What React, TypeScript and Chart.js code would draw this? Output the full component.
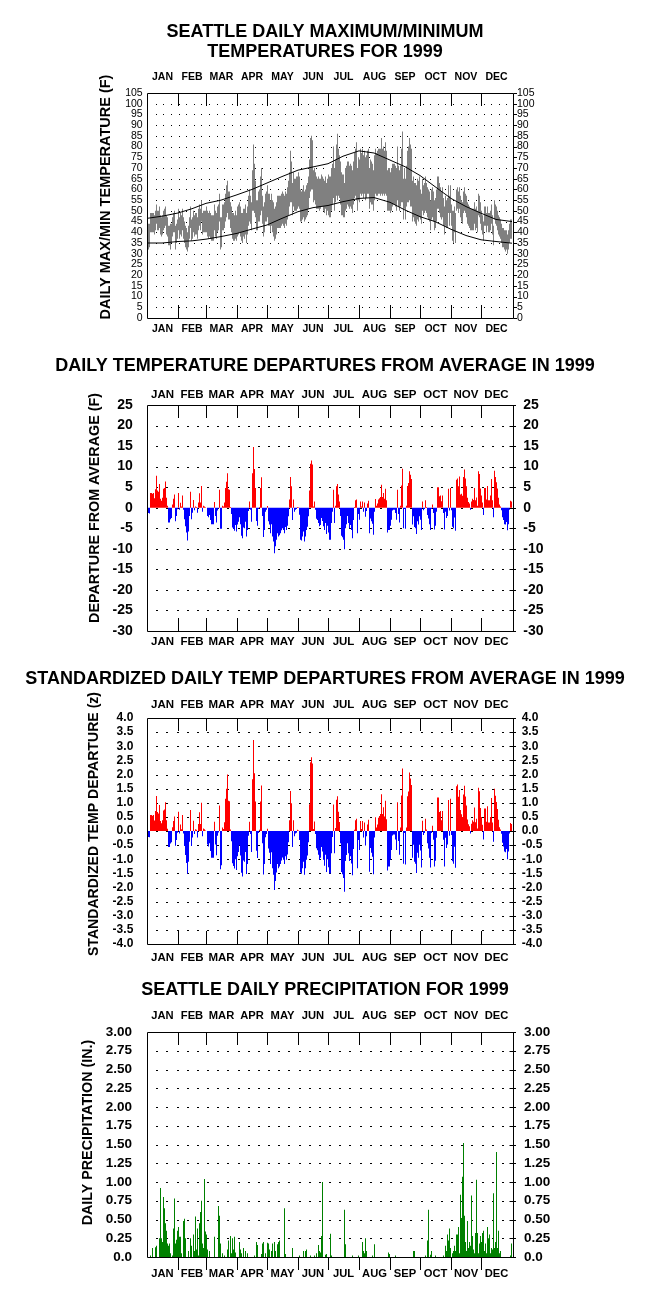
import React, { useEffect, useRef } from "react";
import { Chart, registerables } from "chart.js";

Chart.register(...registerables);

const FONT = "Arial, 'Liberation Sans', Helvetica, sans-serif";

const MONTHS = ["JAN", "FEB", "MAR", "APR", "MAY", "JUN", "JUL", "AUG", "SEP", "OCT", "NOV", "DEC"];
const MONTH_START = [0, 31, 59, 90, 120, 151, 181, 212, 243, 273, 304, 334, 365];
const MONTH_MID = MONTHS.map((_, i) => (MONTH_START[i] + MONTH_START[i + 1]) / 2);

const TITLE_TEMP = ["SEATTLE DAILY MAXIMUM/MINIMUM", "TEMPERATURES FOR 1999"];
const TITLE_DEP = "DAILY TEMPERATURE DEPARTURES FROM AVERAGE IN 1999";
const TITLE_Z = "STANDARDIZED DAILY TEMP DEPARTURES FROM AVERAGE IN 1999";
const TITLE_PRECIP = "SEATTLE DAILY PRECIPITATION FOR 1999";
const YLABEL_TEMP = "DAILY MAX/MIN TEMPERATURE (F)";
const YLABEL_DEP = "DEPARTURE FROM AVERAGE (F)";
const YLABEL_Z = "STANDARDIZED TEMP DEPARTURE (z)";
const YLABEL_PRECIP = "DAILY PRECIPITATION (IN.)";

// normal (average) max / min temperature, read at month starts and mid-months (day of year)
const NORMAL_DAYS = [0, 15, 31, 45, 59, 74, 90, 105, 120, 135, 151, 166, 181, 196, 212, 227, 243, 258, 273, 288, 304, 319, 334, 349, 365];
const NORMAL_HIGH = [46.5, 47.5, 49, 51, 53.5, 55, 57.5, 60, 63, 66, 69, 70.5, 72, 75.5, 78, 77, 73.7, 70.6, 66.5, 61.3, 55.8, 52, 48.9, 46, 45];
const NORMAL_LOW = [35, 35, 35.7, 36, 36.8, 38, 39.5, 41.5, 43.4, 46.5, 49.6, 51.5, 52.5, 54.3, 55.8, 56.2, 54, 50.4, 47.3, 45, 41.4, 38.5, 36.5, 35.7, 34.9];

// daily observed maximum temperature (F), Jan 1 .. Dec 31
const DAILY_MAX = [
  48, 44, 44, 49, 49, 49, 49, 48, 50, 53, 50, 50, 52, 48, 47, 48, 50, 51, 52, 48, 47, 43, 43, 44, 44, 47, 49, 50, 43, 44, 46,
  51, 47, 49, 48, 51, 47, 45, 43, 42, 40, 43, 47, 52, 46, 47, 50, 48, 49, 49, 47, 51, 53, 51, 55, 49, 50, 50, 50,
  52, 50, 49, 50, 49, 48, 48, 48, 53, 50, 49, 52, 53, 58, 47, 47, 53, 53, 54, 58, 62, 64, 59, 59, 54, 52, 49, 49, 48, 50, 48,
  52, 53, 54, 52, 49, 49, 51, 51, 53, 49, 52, 57, 60, 57, 54, 69, 81, 72, 64, 55, 55, 59, 60, 66, 70, 57, 52, 54, 58, 59,
  62, 58, 58, 55, 58, 55, 54, 51, 52, 54, 57, 57, 57, 57, 58, 59, 58, 57, 59, 58, 61, 64, 68, 78, 73, 63, 68, 65, 65, 66, 66,
  68, 66, 60, 59, 60, 62, 59, 60, 62, 63, 66, 74, 84, 85, 83, 69, 70, 68, 66, 65, 66, 65, 65, 67, 66, 65, 64, 66, 63, 65,
  67, 66, 66, 70, 72, 80, 70, 74, 81, 86, 79, 76, 73, 68, 67, 67, 63, 70, 71, 73, 73, 71, 72, 71, 69, 73, 77, 79, 82, 70, 75,
  74, 79, 77, 79, 76, 78, 75, 76, 78, 79, 70, 74, 73, 72, 69, 76, 79, 77, 78, 79, 79, 79, 84, 79, 80, 78, 82, 78, 69, 70, 70,
  68, 70, 72, 72, 72, 71, 70, 80, 71, 69, 71, 79, 87, 65, 70, 65, 71, 78, 80, 84, 81, 79, 64, 66, 63, 63, 62, 65, 64, 66,
  60, 58, 65, 62, 63, 66, 63, 61, 60, 59, 55, 60, 61, 59, 55, 56, 60, 66, 66, 63, 61, 59, 61, 56, 52, 57, 55, 56, 62, 57, 62,
  53, 50, 50, 52, 49, 60, 61, 59, 61, 57, 55, 54, 59, 61, 58, 57, 54, 53, 52, 51, 51, 51, 51, 54, 51, 52, 50, 58, 57, 54,
  50, 48, 45, 52, 52, 49, 52, 49, 49, 50, 53, 48, 43, 55, 53, 52, 50, 48, 47, 46, 44, 42, 42, 41, 41, 41, 39, 41, 44, 46, 46,
];

// daily observed minimum temperature (F)
const DAILY_MIN = [
  39, 32, 33, 40, 40, 40, 40, 39, 41, 44, 41, 41, 42, 39, 38, 39, 41, 42, 43, 39, 38, 34, 34, 32, 35, 38, 40, 40, 32, 35, 37,
  41, 37, 39, 38, 41, 37, 35, 33, 32, 31, 33, 37, 42, 36, 37, 40, 38, 39, 39, 37, 41, 43, 41, 45, 39, 40, 40, 40,
  40, 38, 37, 38, 37, 36, 36, 36, 41, 38, 37, 40, 41, 45, 32, 33, 41, 41, 42, 45, 47, 49, 46, 46, 42, 40, 37, 36, 36, 37, 36,
  38, 39, 40, 38, 36, 35, 38, 37, 39, 35, 39, 43, 45, 44, 41, 50, 50, 49, 47, 41, 41, 45, 45, 48, 50, 44, 38, 40, 45, 45,
  47, 43, 43, 40, 43, 40, 38, 36, 37, 39, 42, 42, 42, 42, 43, 44, 43, 42, 44, 43, 46, 48, 52, 54, 54, 48, 52, 50, 50, 50, 51,
  52, 51, 45, 45, 46, 47, 45, 46, 47, 48, 51, 56, 59, 60, 60, 54, 55, 53, 51, 51, 51, 50, 51, 52, 52, 50, 49, 51, 48, 50,
  48, 47, 47, 50, 53, 56, 50, 54, 57, 55, 57, 56, 53, 48, 48, 47, 47, 50, 51, 53, 52, 51, 52, 51, 49, 53, 56, 57, 55, 50, 55,
  54, 58, 57, 58, 56, 58, 55, 56, 58, 58, 51, 54, 53, 53, 50, 55, 58, 57, 57, 58, 58, 57, 58, 57, 58, 57, 58, 57, 50, 50, 50,
  49, 50, 52, 53, 53, 52, 50, 55, 52, 50, 52, 54, 54, 46, 51, 46, 52, 54, 54, 55, 52, 52, 45, 47, 45, 44, 43, 46, 45, 47,
  46, 44, 50, 48, 49, 50, 49, 47, 46, 45, 41, 46, 47, 45, 41, 42, 45, 51, 51, 49, 47, 46, 47, 43, 39, 43, 42, 42, 49, 43, 49,
  43, 36, 35, 40, 35, 50, 51, 49, 51, 47, 45, 44, 49, 50, 49, 47, 44, 43, 42, 41, 41, 41, 41, 44, 41, 42, 40, 48, 47, 44,
  41, 39, 36, 43, 43, 40, 43, 40, 40, 41, 44, 39, 34, 46, 44, 43, 41, 39, 38, 37, 35, 33, 33, 32, 31, 32, 30, 32, 35, 37, 37,
];

// daily mean temperature departure from average (F)
const DEPARTURE = [
  2.6, -1.3, -1.4, 3.6, 3.6, 3.4, 3.6, 2.3, 4.5, 7.8, 4.2, 3.9, 5.8, 2.2, 1.7, 2.4, 4.6, 4.8, 6.4, 2.4, 0.5, -3.6, -3.6, -2.8, -2.5, 0.8, 2.2, 3.2, -3.3, -2.0, -0.4,
  3.6, -0.5, 1.2, 0.3, 3.0, -0.5, -2.8, -4.5, -6.0, -8.0, -5.8, -2.0, 3.9, -2.8, -1.2, 1.9, -0.6, 0.3, 0.2, -1.2, 1.3, 3.5, 1.3, 5.3, -1.0, 0.5, 0.3, 0.1,
  0.0, -2.0, -2.3, -1.8, -3.0, -4.0, -4.0, -4.0, 1.4, -2.0, -3.6, -0.7, -0.2, 4.4, -5.1, -5.1, 0.5, 0.3, 1.3, 4.8, 6.3, 8.4, 4.5, 4.4, 0.2, -1.5, -4.8, -5.2, -5.6, -4.2, -5.8,
  -4.1, -3.4, -2.3, -4.0, -6.8, -7.4, -4.8, -5.0, -3.4, -7.0, -5.4, -0.8, 1.5, -0.5, -3.4, 8.4, 14.8, 9.4, 4.8, -3.2, -4.4, -0.3, 0.2, 4.8, 7.4, -2.0, -7.1, -5.4, -1.0, -0.5,
  0.4, -3.3, -4.1, -6.2, -4.0, -7.0, -8.2, -11.1, -9.4, -7.8, -6.2, -7.0, -6.7, -6.2, -5.5, -5.0, -5.4, -6.2, -4.7, -5.4, -4.4, -2.1, 2.0, 7.5, 5.2, -3.0, 2.0, -1.0, -0.5, -0.3, 0.2,
  0.1, -1.7, -7.8, -8.0, -7.0, -5.8, -8.2, -7.0, -5.4, -4.6, -2.1, 4.2, 10.7, 11.5, 10.5, 0.3, 1.5, -0.5, -2.7, -3.0, -3.7, -4.5, -4.2, -2.5, -3.2, -4.5, -5.4, -3.7, -6.4, -4.4,
  -6.0, -7.8, -7.8, -3.7, -1.0, 4.4, -3.7, 0.5, 5.2, 5.8, 3.2, 1.5, -2.0, -6.8, -7.2, -7.8, -10.1, -5.0, -4.0, -2.0, -3.7, -5.0, -4.2, -5.4, -7.4, -3.0, 0.2, 1.8, 2.0, -6.2, -1.5,
  -2.9, 1.5, 0.3, 1.5, -1.0, 1.3, -2.2, -0.8, 1.0, 1.7, -6.2, -2.6, -3.3, -3.9, -6.6, -1.0, 2.1, 0.5, 1.0, 2.0, 2.3, 2.6, 5.6, 2.6, 3.6, 2.2, 4.6, 1.8, -6.0, -5.4, -5.4,
  -4.4, -2.9, -0.7, -0.5, -0.5, -1.3, -2.9, 4.4, -1.5, -3.6, 0.5, 5.4, 9.5, -5.0, -0.3, -5.1, 0.5, 5.3, 6.0, 8.9, 8.0, 7.0, -4.1, -2.1, -4.7, -5.0, -6.4, -3.3, -4.1, -2.1,
  -2.9, -5.4, 1.5, -0.6, -0.3, 1.8, 0.2, -1.8, -2.6, -4.0, -5.4, -0.3, 0.8, -1.3, -5.3, -4.4, -1.0, 5.0, 5.0, 2.8, 3.0, 1.6, 3.0, -1.3, -5.3, -1.0, -2.5, -2.0, 4.6, -0.7, 4.8,
  -0.6, -4.6, -5.0, -2.4, -5.6, 6.8, 7.1, 5.2, 7.6, 3.2, 3.4, 2.9, 7.5, 9.3, 7.1, 5.2, 2.4, 1.4, 1.0, -0.5, 1.5, 2.2, 1.9, 4.8, 1.8, 2.5, 0.5, 8.9, 8.2, 4.7,
  3.0, 1.3, -1.8, 4.8, 4.8, 2.0, 5.3, 1.8, 1.8, 3.0, 7.0, 1.8, -2.3, 9.0, 7.5, 6.2, 4.7, 2.4, 0.8, 0.3, -0.6, -2.3, -3.0, -4.0, -4.1, -3.5, -5.5, -4.0, -0.5, 1.7, 1.5,
];

// standardized daily departure (z)
const Z_DEPARTURE = [
  0.41, -0.21, -0.22, 0.57, 0.57, 0.54, 0.57, 0.37, 0.71, 1.24, 0.67, 0.62, 0.92, 0.35, 0.27, 0.38, 0.73, 0.76, 1.02, 0.38, 0.08, -0.57, -0.57, -0.44, -0.40, 0.13, 0.35, 0.51, -0.52, -0.32, -0.06,
  0.68, -0.09, 0.23, 0.06, 0.57, -0.09, -0.53, -0.85, -1.13, -1.51, -1.09, -0.38, 0.74, -0.53, -0.23, 0.36, -0.11, 0.06, 0.04, -0.23, 0.25, 0.66, 0.25, 1.00, -0.19, 0.09, 0.06, 0.02,
  0, -0.48, -0.55, -0.43, -0.71, -0.95, -0.95, -0.95, 0.33, -0.48, -0.86, -0.17, -0.05, 0.90, -1.35, -1.21, 0.12, 0.07, 0.31, 1.14, 1.50, 2.00, 1.07, 1.05, 0.05, -0.36, -1.14, -1.24, -1.33, -1.00, -1.38,
  -0.89, -0.74, -0.50, -0.87, -1.48, -1.61, -1.04, -1.09, -0.74, -1.52, -1.17, -0.17, 0.33, -0.11, -0.74, 1.83, 3.22, 2.04, 1.04, -0.70, -0.96, -0.07, 0.04, 1.04, 1.61, -0.43, -1.54, -1.17, -0.22, -0.11,
  0.08, -0.62, -0.77, -1.17, -0.75, -1.32, -1.55, -2.09, -1.77, -1.47, -1.17, -1.32, -1.26, -1.17, -1.04, -0.94, -1.02, -1.17, -0.89, -1.02, -0.83, -0.40, 0.38, 1.42, 0.98, -0.57, 0.38, -0.19, -0.09, -0.06, 0.04,
  0.02, -0.32, -1.47, -1.51, -1.32, -1.09, -1.55, -1.32, -1.02, -0.87, -0.40, 0.95, 2.43, 2.61, 2.39, 0.07, 0.34, -0.11, -0.61, -0.68, -0.84, -1.02, -0.95, -0.57, -0.73, -1.02, -1.23, -0.84, -1.45, -1.00,
  -1.28, -1.50, -1.50, -0.79, -0.21, 0.94, -0.79, 0.11, 1.11, 1.23, 0.68, 0.32, -0.43, -1.45, -1.53, -1.66, -2.15, -1.06, -0.85, -0.43, -0.79, -1.06, -0.89, -1.15, -1.57, -0.64, 0.04, 0.38, 0.43, -1.32, -0.32,
  -0.67, 0.35, 0.07, 0.35, -0.23, 0.30, -0.51, -0.19, 0.23, 0.40, -1.44, -0.60, -0.77, -0.91, -1.53, -0.23, 0.49, 0.12, 0.23, 0.47, 0.53, 0.60, 1.30, 0.60, 0.84, 0.51, 1.07, 0.42, -1.40, -1.26, -1.26,
  -1.02, -0.67, -0.16, -0.12, -0.12, -0.30, -0.67, 1.02, -0.35, -0.84, 0.12, 1.26, 2.21, -1.16, -0.07, -1.19, 0.12, 1.23, 1.40, 2.07, 1.86, 1.63, -0.95, -0.49, -1.09, -1.16, -1.49, -0.77, -0.95, -0.49,
  -0.69, -1.29, 0.36, -0.14, -0.07, 0.43, 0.05, -0.43, -0.62, -0.95, -1.29, -0.07, 0.19, -0.31, -1.26, -1.05, -0.24, 1.19, 1.19, 0.67, 0.71, 0.38, 0.71, -0.31, -1.26, -0.24, -0.60, -0.48, 1.10, -0.17, 1.14,
  -0.14, -1.07, -1.16, -0.56, -1.30, 1.58, 1.65, 1.21, 1.45, 0.74, 0.59, 0.50, 1.29, 1.60, 1.22, 0.90, 0.41, 0.24, 0.17, -0.09, 0.26, 0.38, 0.33, 0.83, 0.31, 0.43, 0.09, 1.53, 1.41, 0.81,
  0.50, 0.22, -0.30, 0.80, 0.80, 0.33, 0.88, 0.30, 0.30, 0.50, 1.17, 0.30, -0.38, 1.50, 1.25, 1.03, 0.78, 0.40, 0.13, 0.05, -0.10, -0.42, -0.55, -0.73, -0.75, -0.64, -1.00, -0.73, -0.09, 0.28, 0.25,
];

// daily precipitation (inches)
const PRECIP = [
  0, 0, 0, 0.02, 0, 0.12, 0, 0, 0.13, 0.15, 0, 0, 0.25, 0.92, 0.25, 0.2, 0.8, 0.65, 0.45, 0.35, 0.18, 0.15, 0.18, 0.05, 0, 0.02, 0.38, 0.78, 0.18, 0.23, 0.35,
  0.40, 0.27, 0.27, 0.05, 0, 0.48, 0.51, 0.25, 0, 0, 0.08, 0, 0.25, 0.15, 0, 0.30, 0.08, 0.54, 0.10, 0.38, 0.02, 0.45, 0.60, 0.75, 0.18, 0.12, 1.04, 0.34,
  0.30, 0.10, 0, 0.08, 0, 0, 0, 0, 0.27, 0, 0, 0, 0.68, 0.55, 0.18, 0, 0.05, 0, 0.02, 0, 0, 0.10, 0.22, 0, 0.28, 0.05, 0.25, 0.10, 0.27, 0.06, 0,
  0, 0, 0.20, 0.10, 0.05, 0, 0.12, 0, 0.08, 0, 0.05, 0, 0, 0, 0, 0, 0, 0.02, 0, 0.20, 0.16, 0, 0, 0, 0.04, 0.18, 0.20, 0, 0.05, 0,
  0.19, 0.18, 0.10, 0, 0.08, 0.18, 0, 0.20, 0.08, 0, 0.17, 0.20, 0.22, 0, 0, 0, 0, 0.65, 0.04, 0, 0, 0, 0, 0, 0, 0.12, 0, 0, 0, 0, 0,
  0, 0.02, 0, 0, 0, 0.08, 0, 0.08, 0.10, 0, 0, 0, 0.02, 0, 0, 0, 0.02, 0, 0.05, 0, 0.16, 0.08, 0.06, 0.28, 1.00, 0, 0, 0.03, 0.04, 0,
  0, 0, 0.31, 0.02, 0, 0, 0, 0, 0, 0, 0, 0, 0, 0, 0, 0, 0.63, 0.17, 0, 0, 0, 0, 0, 0, 0.02, 0, 0, 0, 0, 0, 0.02,
  0, 0, 0, 0.20, 0.08, 0.05, 0.25, 0.08, 0, 0, 0, 0, 0, 0.02, 0, 0.17, 0, 0, 0, 0, 0, 0, 0, 0, 0, 0, 0, 0, 0, 0.06, 0.04,
  0, 0, 0, 0, 0, 0.02, 0, 0, 0, 0, 0, 0, 0, 0, 0, 0, 0, 0, 0, 0, 0, 0, 0, 0.08, 0.08, 0, 0, 0, 0, 0,
  0, 0, 0, 0, 0, 0.02, 0, 0.22, 0.63, 0, 0.03, 0.08, 0, 0, 0, 0.02, 0, 0, 0, 0, 0, 0, 0, 0.02, 0, 0.15, 0.08, 0.30, 0.22, 0.38, 0.12,
  0, 0.05, 0.08, 0.15, 0.08, 0.30, 0.30, 0.40, 0.05, 0.83, 0.52, 1.07, 1.52, 0.55, 0.20, 0.08, 0.48, 0.12, 0.20, 0.15, 0.82, 0.28, 0.10, 0.05, 0.32, 1.03, 0.32, 0.05, 0.18, 0.28,
  0.20, 0.32, 0.35, 0.08, 0.18, 0.05, 0.40, 0.25, 0.30, 0.05, 0.12, 0.10, 0.85, 0.12, 0.20, 1.40, 0.12, 0.35, 0.05, 0.08, 0, 0, 0, 0, 0, 0, 0, 0, 0, 0.02, 0.18,
];

const RED = "#ff0000";
const BLUE = "#0000ff";
const GRAY = "#808080";
const GREEN = "#008000";

const barCommon = {
  type: "bar",
  barPercentage: 1,
  categoryPercentage: 1,
  inflateAmount: 0,
  borderWidth: 0,
  xAxisID: "x",
  yAxisID: "y",
  order: 1,
};

const signColor = (c: any) => (c && c.raw && c.raw.y < 0 ? BLUE : RED);

const PANELS: any[] = [
  {
    key: "temp",
    top: 0,
    height: 345,
    title: TITLE_TEMP,
    titleLH: 19.5,
    titlePad: 22.75,
    topAxisH: 31.25,
    bottomAxisH: 27,
    yMin: 0,
    yMax: 105,
    yStep: 5,
    yFmt: (v: number) => String(Math.round(v)),
    tickSize: 10.5,
    tickWeight: "normal",
    yPadL: 4.3,
    yPadR: 4,
    monthSize: 10.5,
    monthPadTop: 9.2,
    monthPadBottom: 4.4,
    yTitle: YLABEL_TEMP,
    yTitleSize: 14.5,
    yTitleDx: 41,
    yTitleDy: -8.5,
    dotCols: 48,
    dotShift: 1,
    dotW: 1,
    dotH: 1,
    rTickIn: 0,
    rTickOut: 3,
    bottomTickOut: false,
    datasets: () => [
      {
        type: "line",
        data: NORMAL_DAYS.map((d, i) => ({ x: d, y: NORMAL_HIGH[i] })),
        borderColor: "#000",
        borderWidth: 1,
        pointRadius: 0,
        fill: false,
        tension: 0,
        order: 0,
        xAxisID: "x",
        yAxisID: "y",
      },
      {
        type: "line",
        data: NORMAL_DAYS.map((d, i) => ({ x: d, y: NORMAL_LOW[i] })),
        borderColor: "#000",
        borderWidth: 1,
        pointRadius: 0,
        fill: false,
        tension: 0,
        order: 0,
        xAxisID: "x",
        yAxisID: "y",
      },
      {
        ...barCommon,
        data: DAILY_MAX.map((hi, d) => ({ x: d + 0.5, y: [DAILY_MIN[d], hi] })),
        backgroundColor: GRAY,
      },
    ],
  },
  {
    key: "dep",
    top: 345,
    height: 313,
    title: TITLE_DEP,
    titleLH: 20,
    titlePad: 11.5,
    topAxisH: 28.5,
    bottomAxisH: 27,
    yMin: -30,
    yMax: 25,
    yStep: 5,
    yFmt: (v: number) => String(Math.round(v)),
    tickSize: 14,
    tickWeight: "bold",
    yPadL: 14.3,
    yPadR: 10.3,
    monthSize: 11.5,
    monthPadTop: 3.6,
    monthPadBottom: 3.6,
    yTitle: YLABEL_DEP,
    yTitleSize: 14.3,
    yTitleDx: 52,
    yTitleDy: -10,
    dotCols: 36,
    dotShift: -1,
    dotW: 2,
    dotH: 1,
    rTickIn: 4,
    rTickOut: 2,
    bottomTickOut: false,
    datasets: () => [
      {
        ...barCommon,
        data: DEPARTURE.map((v, d) => ({ x: d + 0.5, y: v })),
        backgroundColor: signColor,
      },
    ],
  },
  {
    key: "z",
    top: 658,
    height: 312,
    title: TITLE_Z,
    titleLH: 20,
    titlePad: 11.5,
    topAxisH: 28.5,
    bottomAxisH: 26,
    yMin: -4,
    yMax: 4,
    yStep: 0.5,
    yFmt: (v: number) => (Math.abs(v) < 1e-9 ? "0.0" : v.toFixed(1)),
    tickSize: 12,
    tickWeight: "bold",
    yPadL: 13.7,
    yPadR: 8.7,
    monthSize: 11.5,
    monthPadTop: 6.6,
    monthPadBottom: 6.8,
    yTitle: YLABEL_Z,
    yTitleSize: 14.1,
    yTitleDx: 53,
    yTitleDy: -7,
    dotCols: 36,
    dotShift: -1,
    dotW: 2,
    dotH: 1,
    rTickIn: 4,
    rTickOut: 2,
    bottomTickOut: false,
    datasets: () => [
      {
        ...barCommon,
        data: Z_DEPARTURE.map((v, d) => ({ x: d + 0.5, y: v })),
        backgroundColor: signColor,
      },
    ],
  },
  {
    key: "precip",
    top: 970,
    height: 322,
    title: TITLE_PRECIP,
    titleLH: 20,
    titlePad: 10,
    topAxisH: 32,
    bottomAxisH: 35,
    yMin: 0,
    yMax: 3,
    yStep: 0.25,
    yFmt: (v: number) => (Math.abs(v) < 1e-9 ? "0.0" : v.toFixed(2)),
    tickSize: 13.5,
    tickWeight: "bold",
    yPadL: 15,
    yPadR: 11,
    monthSize: 11.2,
    monthPadTop: 9.6,
    monthPadBottom: 10.1,
    yTitle: YLABEL_PRECIP,
    yTitleSize: 14.3,
    yTitleDx: 58.5,
    yTitleDy: -12,
    dotCols: 36,
    dotShift: -1,
    dotW: 2,
    dotH: 1,
    rTickIn: 4,
    rTickOut: 2,
    bottomTickOut: true,
    datasets: () => [
      {
        ...barCommon,
        data: PRECIP.map((v, d) => ({ x: d + 0.5, y: v })),
        backgroundColor: GREEN,
      },
    ],
  },
];

function makeDecor(p: any) {
  return {
    id: "decor_" + p.key,
    beforeDatasetsDraw(chart: any) {
      const { ctx, chartArea: a, scales } = chart;
      const ys = scales.y;
      const w = a.right - a.left;
      ctx.save();
      ctx.fillStyle = "#000";
      const ticks = ys.ticks;
      for (let i = 1; i < ticks.length - 1; i++) {
        const py = Math.round(ys.getPixelForValue(ticks[i].value));
        for (let k = 1; k < p.dotCols; k++) {
          const px = Math.round(a.left + (k * w) / p.dotCols + p.dotShift);
          ctx.fillRect(px, py - Math.floor(p.dotH / 2), p.dotW, p.dotH);
        }
      }
      ctx.restore();
    },
    afterDatasetsDraw(chart: any) {
      const { ctx, chartArea: a, scales } = chart;
      const xs = scales.x;
      const ys = scales.y;
      ctx.save();
      ctx.strokeStyle = "#000";
      ctx.lineWidth = 1;
      ctx.beginPath();
      ctx.rect(a.left + 0.5, a.top + 0.5, a.right - a.left, a.bottom - a.top);
      for (let i = 1; i < 12; i++) {
        const px = Math.round(xs.getPixelForValue(MONTH_START[i])) + 0.5;
        ctx.moveTo(px, a.top);
        ctx.lineTo(px, a.top + 13);
        if (p.bottomTickOut) {
          ctx.moveTo(px, a.bottom);
          ctx.lineTo(px, a.bottom + 13);
        } else {
          ctx.moveTo(px, a.bottom);
          ctx.lineTo(px, a.bottom - 13);
        }
      }
      ys.ticks.forEach((t: any) => {
        const py = Math.round(ys.getPixelForValue(t.value)) + 0.5;
        ctx.moveTo(a.right + 0.5 - p.rTickIn, py);
        ctx.lineTo(a.right + 1 + p.rTickOut, py);
      });
      ctx.stroke();
      ctx.restore();

      ctx.save();
      ctx.fillStyle = "#000";
      ctx.font = `bold ${p.yTitleSize}px ${FONT}`;
      ctx.textAlign = "center";
      ctx.textBaseline = "middle";
      ctx.translate(a.left - p.yTitleDx, (a.top + a.bottom) / 2 + p.yTitleDy);
      ctx.rotate(-Math.PI / 2);
      ctx.fillText(p.yTitle, 0, 0);
      ctx.restore();
    },
  };
}

function PanelChart({ p }: { p: any }) {
  const ref = useRef<HTMLCanvasElement | null>(null);
  useEffect(() => {
    const canvas = ref.current;
    if (!canvas) return;
    const tickFont = { family: FONT, size: p.tickSize, weight: p.tickWeight };
    const monthFont = { family: FONT, size: p.monthSize, weight: "bold" };
    const xAxis = (pos: string, h: number, pad: number) => ({
      type: "linear",
      axis: "x",
      position: pos,
      min: 0,
      max: 366,
      offset: false,
      grid: { display: false, drawTicks: false, tickLength: 0, offset: false },
      border: { display: false },
      afterBuildTicks: (s: any) => {
        s.ticks = MONTH_MID.map((v) => ({ value: v }));
      },
      afterFit: (s: any) => {
        s.height = h;
      },
      ticks: {
        autoSkip: false,
        maxRotation: 0,
        minRotation: 0,
        padding: pad,
        color: "#000",
        font: monthFont,
        callback: (_v: any, i: number) => MONTHS[i],
      },
    });
    const yAxis = (pos: string, w: number, pad: number) => ({
      type: "linear",
      axis: "y",
      position: pos,
      min: p.yMin,
      max: p.yMax,
      grid: { display: false, drawTicks: false, tickLength: 0 },
      border: { display: false },
      afterFit: (s: any) => {
        s.width = w;
      },
      ticks: {
        stepSize: p.yStep,
        autoSkip: false,
        padding: pad,
        color: "#000",
        font: tickFont,
        callback: (v: any) => p.yFmt(Number(v)),
      },
    });
    const chart = new Chart(canvas, {
      type: "bar",
      data: { datasets: p.datasets() },
      options: {
        responsive: false,
        animation: false,
        devicePixelRatio: 1,
        events: [],
        layout: { padding: 0 },
        plugins: {
          legend: { display: false },
          tooltip: { enabled: false },
          title: {
            display: true,
            text: p.title,
            color: "#000",
            align: "center",
            padding: { top: p.titlePad, bottom: 0 },
            font: { family: FONT, size: 18, weight: "bold", lineHeight: p.titleLH + "px" },
          },
        },
        scales: {
          x: xAxis("bottom", p.bottomAxisH, p.monthPadBottom),
          xTop: xAxis("top", p.topAxisH, p.monthPadTop),
          y: yAxis("left", 147, p.yPadL),
          yRight: yAxis("right", 137, p.yPadR),
        },
      } as any,
      plugins: [makeDecor(p)],
    } as any);
    return () => chart.destroy();
  }, [p]);
  return (
    <canvas
      ref={ref}
      width={650}
      height={p.height}
      style={{ position: "absolute", left: 0, top: p.top, width: 650, height: p.height, display: "block" }}
    />
  );
}

export default function App() {
  useEffect(() => {
    document.body.style.margin = "0";
    document.body.style.background = "#fff";
  }, []);
  return (
    <div style={{ position: "absolute", left: 0, top: 0, width: 650, height: 1292, background: "#fff", overflow: "hidden" }}>
      {PANELS.map((p) => (
        <PanelChart key={p.key} p={p} />
      ))}
    </div>
  );
}
